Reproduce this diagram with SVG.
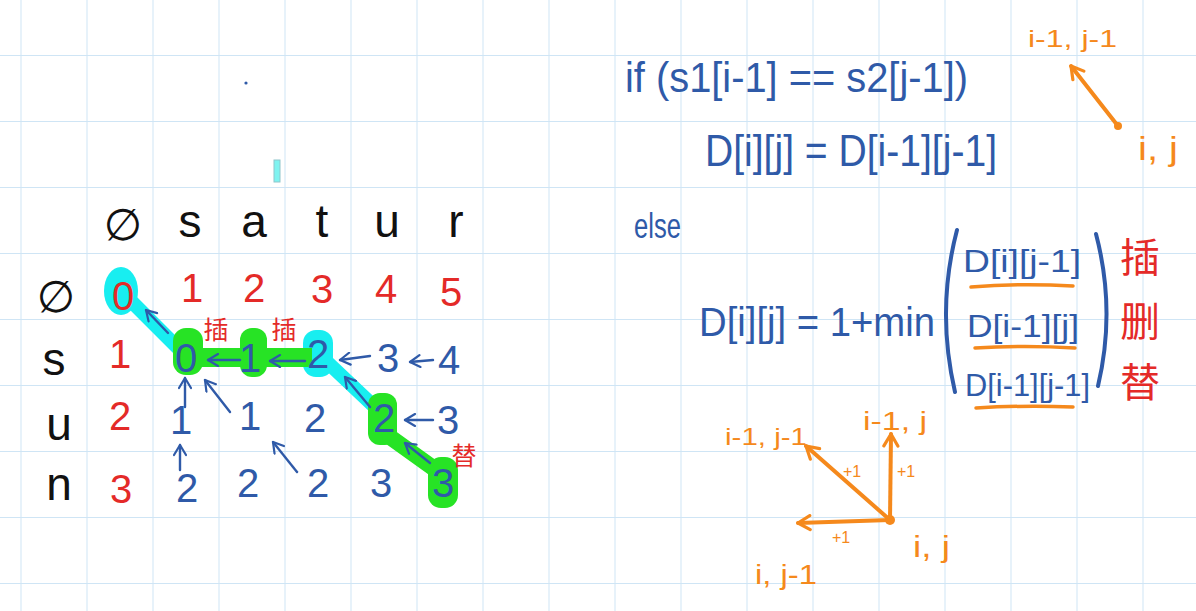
<svg xmlns="http://www.w3.org/2000/svg" width="1196" height="611" viewBox="0 0 1196 611">
<defs>
<pattern id="grid" x="20.5" y="55" width="66" height="66" patternUnits="userSpaceOnUse">
<path d="M0,0 V66 M0,0 H66" fill="none" stroke="#cfe5f5" stroke-width="2"/>
</pattern>
<marker id="ab" viewBox="0 0 14 14" refX="12" refY="7" markerWidth="14" markerHeight="14" markerUnits="userSpaceOnUse" orient="auto">
<path d="M2,1 L12,7 L2,13" fill="none" stroke="#2f5aa8" stroke-width="2.2" stroke-linecap="round" stroke-linejoin="round"/>
</marker>
<marker id="ao" viewBox="0 0 18 18" refX="15" refY="9" markerWidth="18" markerHeight="18" markerUnits="userSpaceOnUse" orient="auto">
<path d="M3,2 L15,9 L3,16" fill="none" stroke="#f5891c" stroke-width="3.2" stroke-linecap="round" stroke-linejoin="round"/>
</marker>
</defs>
<style>
.hd{font-family:"DejaVu Sans","Liberation Sans",sans-serif;font-size:44px;fill:#111;text-anchor:middle}
.lt{font-family:"Liberation Sans",sans-serif;font-size:46px;fill:#111;text-anchor:middle}
.r{font-family:"Liberation Sans",sans-serif;font-size:40px;fill:#e42a28;text-anchor:middle}
.b{font-family:"Liberation Sans",sans-serif;font-size:40px;fill:#2f5aa8;text-anchor:middle}
.eq{font-family:"Liberation Sans",sans-serif;fill:#2f5aa8}
.o{font-family:"Liberation Sans",sans-serif;fill:#f5891c}
.zh{font-family:"Noto Sans CJK SC",sans-serif;fill:#e42a28;text-anchor:middle}
.cy{fill:#18eef0}
.gr{fill:#27e325}
.cyl{stroke:#18eef0;stroke-linecap:round;fill:none}
.grl{stroke:#27e325;stroke-linecap:round;fill:none}
.ba{stroke:#2f5aa8;stroke-width:2.4;fill:none;stroke-linecap:round;marker-end:url(#ab)}
.oa{stroke:#f5891c;stroke-width:4;fill:none;stroke-linecap:round;marker-end:url(#ao)}
</style>
<rect width="1196" height="611" fill="#ffffff"/>
<rect width="1196" height="611" fill="url(#grid)"/>
<circle cx="246" cy="83" r="1.6" fill="#2f5aa8"/>
<rect x="274" y="160" width="6" height="22" fill="#7ff3f0" stroke="#8fc6cc" stroke-width="1"/>

<g id="highlights">
<ellipse class="cy" cx="121" cy="291" rx="17" ry="24"/>
<line class="cyl" x1="125" y1="295" x2="180" y2="350" stroke-width="14"/>
<rect class="cy" x="303" y="330" width="30" height="47" rx="13"/>
<line class="cyl" x1="325" y1="360" x2="380" y2="412" stroke-width="14"/>
<rect class="gr" x="180" y="348" width="132" height="19"/>
<rect class="gr" x="173" y="328" width="30" height="47" rx="13"/>
<rect class="gr" x="240" y="328" width="27" height="49" rx="12"/>
<rect class="gr" x="368" y="393" width="29" height="52" rx="12"/>
<line class="grl" x1="390" y1="437" x2="436" y2="470" stroke-width="16"/>
<rect class="gr" x="428" y="457" width="30" height="51" rx="13"/>
</g>

<g id="header">
<text class="hd" x="123" y="240">∅</text>
<text class="lt" x="190" y="237">s</text>
<text class="lt" x="254" y="237">a</text>
<text class="lt" x="322" y="237">t</text>
<text class="lt" x="387" y="237">u</text>
<text class="lt" x="456" y="237">r</text>
<text class="hd" x="56" y="312">∅</text>
<text class="lt" x="54" y="375">s</text>
<text class="lt" x="59" y="440">u</text>
<text class="lt" x="59" y="500">n</text>
</g>

<g id="row0">
<text class="r" x="123" y="310">0</text>
<text class="r" x="192" y="302">1</text>
<text class="r" x="254" y="302">2</text>
<text class="r" x="322" y="303">3</text>
<text class="r" x="386" y="303">4</text>
<text class="r" x="451" y="306">5</text>
</g>
<g id="row1">
<text class="r" x="120" y="368">1</text>
<text class="b" x="186" y="372">0</text>
<text class="b" x="250" y="372">1</text>
<text class="b" x="318" y="368">2</text>
<text class="b" x="388" y="372">3</text>
<text class="b" x="449" y="374">4</text>
</g>
<g id="row2">
<text class="r" x="120" y="430">2</text>
<text class="b" x="181" y="434">1</text>
<text class="b" x="250" y="430">1</text>
<text class="b" x="315" y="432">2</text>
<text class="b" x="384" y="432">2</text>
<text class="b" x="448" y="434">3</text>
</g>
<g id="row3">
<text class="r" x="121" y="503">3</text>
<text class="b" x="187" y="502">2</text>
<text class="b" x="248" y="497">2</text>
<text class="b" x="318" y="497">2</text>
<text class="b" x="381" y="497">3</text>
<text class="b" x="443" y="497">3</text>
</g>
<g id="ops-left">
<text class="zh" x="216" y="339" font-size="25">插</text>
<text class="zh" x="284" y="339" font-size="25">插</text>
<text class="zh" x="464" y="465" font-size="25">替</text>
</g>

<g id="connectors">
<line class="ba" x1="168" y1="333" x2="146" y2="310"/>
<line class="ba" x1="240" y1="360" x2="208" y2="360"/>
<line class="ba" x1="305" y1="361" x2="270" y2="361"/>
<line class="ba" x1="370" y1="356" x2="340" y2="360"/>
<line class="ba" x1="433" y1="360" x2="410" y2="362"/>
<line class="ba" x1="185" y1="407" x2="185" y2="378"/>
<line class="ba" x1="230" y1="412" x2="205" y2="380"/>
<line class="ba" x1="297" y1="472" x2="273" y2="442"/>
<line class="ba" x1="370" y1="407" x2="345" y2="377"/>
<line class="ba" x1="433" y1="420" x2="405" y2="420"/>
<line class="ba" x1="430" y1="463" x2="405" y2="443"/>
<line class="ba" x1="180" y1="470" x2="180" y2="445"/>
<line class="oa" x1="1118" y1="126" x2="1071" y2="66"/>
<circle cx="1118" cy="126" r="4" fill="#f5891c"/>
<line class="oa" x1="890" y1="520" x2="891" y2="434"/>
<line class="oa" x1="890" y1="520" x2="806" y2="446"/>
<line class="oa" x1="890" y1="520" x2="798" y2="523"/>
<circle cx="890" cy="520" r="5" fill="#f5891c"/>
</g>

<g id="formula-if">
<text class="eq" x="625" y="92" font-size="42" textLength="343" lengthAdjust="spacingAndGlyphs">if (s1[i-1] == s2[j-1])</text>
<text class="eq" x="705" y="166" font-size="44" textLength="292" lengthAdjust="spacingAndGlyphs">D[i][j] = D[i-1][j-1]</text>
</g>
<g id="formula-else">
<text class="eq" x="634" y="238" font-size="35" textLength="47" lengthAdjust="spacingAndGlyphs">else</text>
<text class="eq" x="699" y="336" font-size="40" textLength="236" lengthAdjust="spacingAndGlyphs">D[i][j] = 1+min</text>
<path d="M957,230 Q936,310 955,392" fill="none" stroke="#2f5aa8" stroke-width="4" stroke-linecap="round"/>
<path d="M1096,234 Q1116,310 1098,386" fill="none" stroke="#2f5aa8" stroke-width="4" stroke-linecap="round"/>
<text class="eq" x="963" y="272" font-size="32" textLength="118" lengthAdjust="spacingAndGlyphs">D[i][j-1]</text>
<text class="eq" x="967" y="337" font-size="32" textLength="112" lengthAdjust="spacingAndGlyphs">D[i-1][j]</text>
<text class="eq" x="965" y="396" font-size="32" textLength="125" lengthAdjust="spacingAndGlyphs">D[i-1][j-1]</text>
<path d="M971,287 Q1020,283 1073,286" fill="none" stroke="#f5891c" stroke-width="3.5" stroke-linecap="round"/>
<path d="M975,348 Q1025,345 1075,348" fill="none" stroke="#f5891c" stroke-width="3.5" stroke-linecap="round"/>
<path d="M976,408 Q1025,405 1073,407" fill="none" stroke="#f5891c" stroke-width="3.5" stroke-linecap="round"/>
<text class="zh" x="1140" y="272" font-size="40">插</text>
<text class="zh" x="1140" y="336" font-size="40">删</text>
<text class="zh" x="1140" y="397" font-size="40">替</text>
</g>

<g id="diag-top">
<text class="o" x="1028" y="47" font-size="24" textLength="89" lengthAdjust="spacingAndGlyphs">i-1, j-1</text>
<text class="o" x="1138" y="160" font-size="34" textLength="40" lengthAdjust="spacingAndGlyphs">i, j</text>
</g>
<g id="diag-bottom">
<text class="o" x="725" y="445" font-size="24" textLength="82" lengthAdjust="spacingAndGlyphs">i-1, j-1</text>
<text class="o" x="863" y="430" font-size="26" textLength="64" lengthAdjust="spacingAndGlyphs">i-1, j</text>
<text class="o" x="913" y="557" font-size="30" textLength="37" lengthAdjust="spacingAndGlyphs">i, j</text>
<text class="o" x="755" y="584" font-size="28" textLength="62" lengthAdjust="spacingAndGlyphs">i, j-1</text>
<text class="o" x="843" y="477" font-size="16">+1</text>
<text class="o" x="897" y="477" font-size="16">+1</text>
<text class="o" x="832" y="543" font-size="16">+1</text>
</g>
</svg>
